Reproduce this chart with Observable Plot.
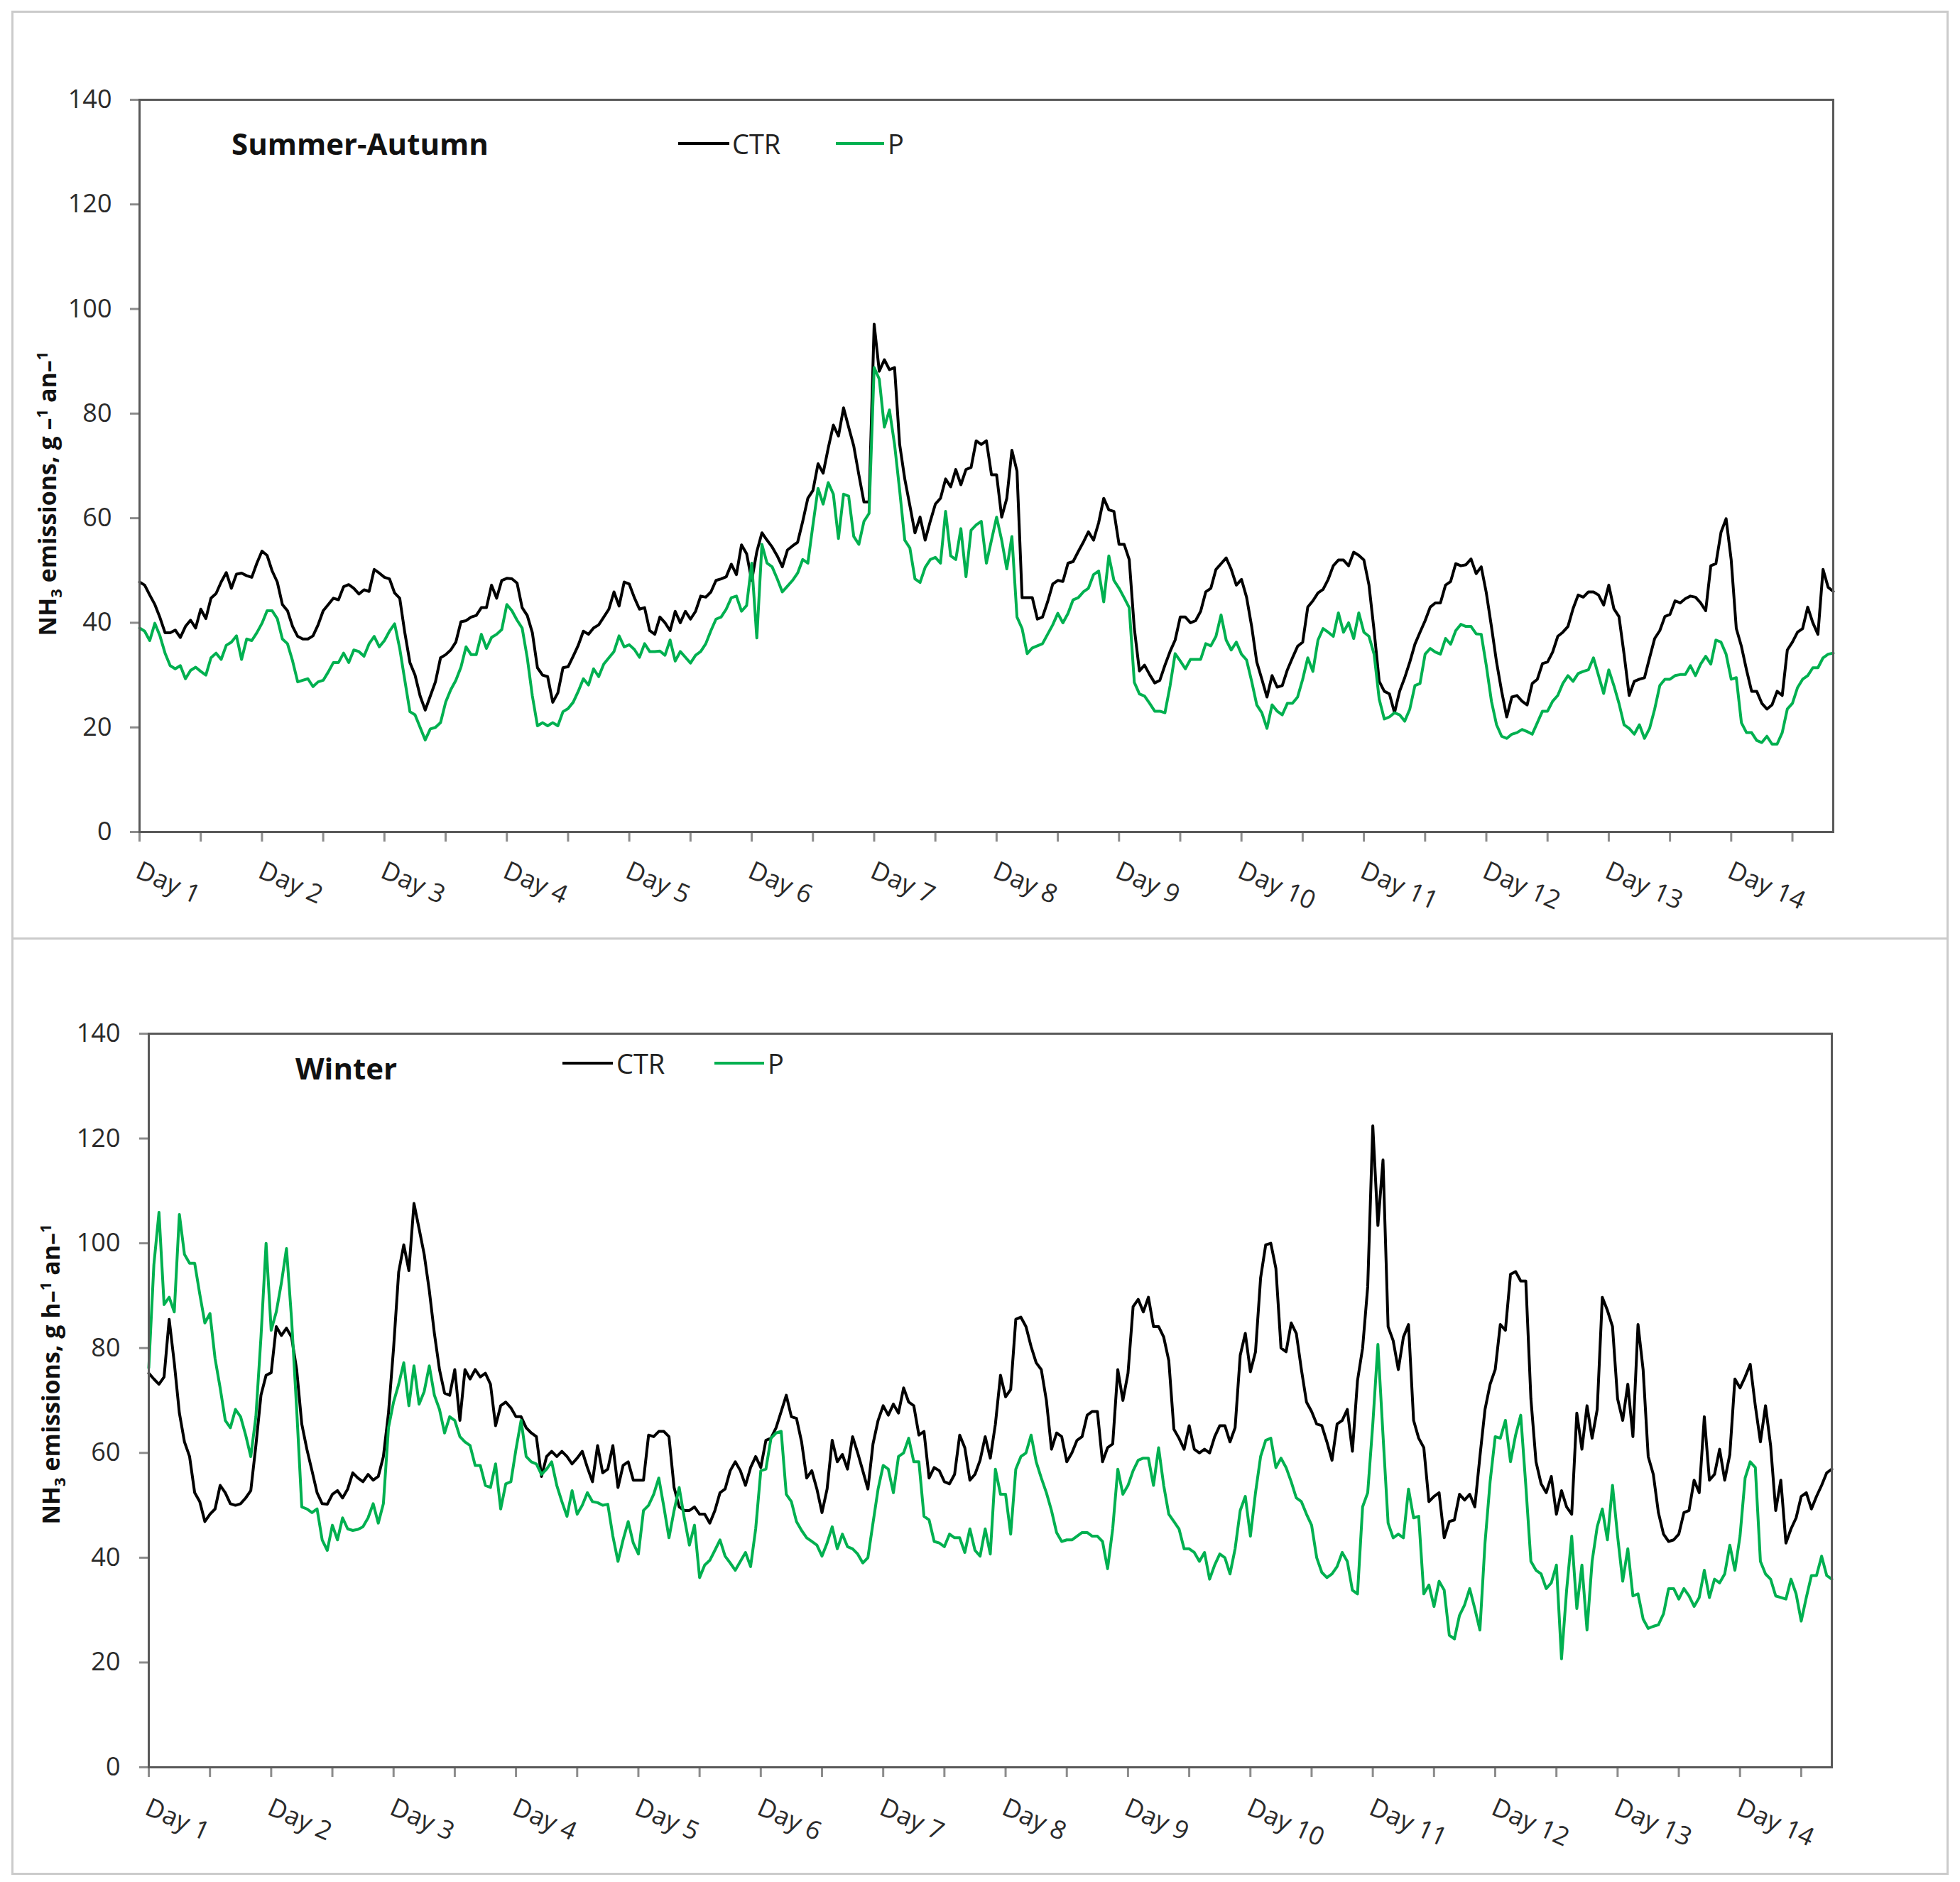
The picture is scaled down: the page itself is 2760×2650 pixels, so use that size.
<!DOCTYPE html>
<html>
<head>
<meta charset="utf-8">
<script src="https://cdn.jsdelivr.net/npm/d3@7"></script>
<script src="https://cdn.jsdelivr.net/npm/@observablehq/plot@0.6"></script>
<style>
  html, body { margin: 0; padding: 0; background: #fff; }
  body { width: 2760px; height: 2650px; position: relative; overflow: hidden; font-family: "Open Sans", sans-serif; color: #000; }
  .box { position: absolute; border: 3px solid #cbcbcb; box-sizing: border-box; }
  .panel { position: absolute; left: 0; width: 2760px; }
  .ylab { position: absolute; transform: translate(-50%, -50%) rotate(-90deg); font-weight: bold; font-size: 34px; white-space: nowrap; line-height: 1; color: #111; }
  .ylab sub, .ylab sup { font-size: 22px; }
  .title { position: absolute; font-weight: bold; font-size: 42px; line-height: 1; transform: translateY(-50%); white-space: nowrap; color: #111; }
  .legtxt { position: absolute; font-size: 38px; line-height: 1; transform: translateY(-50%); color: #222; }
  .legline { position: absolute; height: 4px; transform: translateY(-50%); }
</style>
</head>
<body>
<script>
// ---------------- DATA (hourly values, index = hour) ----------------
const seasons = ["Summer-Autumn", "Winter"];
const seriesNames = ["CTR", "P"];
const dayLabels = ["Day 1","Day 2","Day 3","Day 4","Day 5","Day 6","Day 7","Day 8","Day 9","Day 10","Day 11","Day 12","Day 13","Day 14"];
const yTicks = [0, 20, 40, 60, 80, 100, 120, 140];

const summerCTR = [
47.8,47.2,45.3,43.5,41,38.1,38.1,38.6,37.2,39.3,40.5,39,42.6,40.8,44.7,45.6,47.8,49.6,46.6,49.3,49.5,49,48.7,51.4,
53.7,52.9,49.9,47.8,43.5,42.3,39.3,37.4,36.9,36.9,37.5,39.6,42.3,43.5,44.7,44.4,46.9,47.3,46.6,45.5,46.3,46,50.2,49.5,
48.7,48.4,45.7,44.7,38.1,32.4,30,26,23.3,26,28.7,33.3,33.9,34.8,36.3,40.2,40.4,41.1,41.4,42.9,42.9,47.2,44.7,48.1,
48.5,48.4,47.6,42.9,41.4,38.1,31.4,30,29.7,24.8,26.6,31.4,31.6,33.6,35.7,38.4,37.8,39,39.6,41.1,42.6,45.9,43.2,47.8,
47.4,44.8,42.6,42.9,38.5,37.8,41.1,40,38.5,42.2,40,42.2,40.7,42.2,45.1,44.9,45.9,48.1,48.4,48.8,51.2,49.2,54.9,53.2,
48.1,53.6,57.2,55.8,54.5,52.8,50.7,53.9,54.7,55.4,59.4,63.8,65.3,70.4,68.6,73.4,77.8,75.7,81.1,77.4,73.8,68.3,63.1,63.1,
97.1,88.1,90.3,88.4,88.8,74.1,67.5,62.4,57.2,60.2,55.8,59.4,62.7,63.8,67.5,66,69.3,66.4,69.3,69.7,74.8,74.1,74.8,68.3,
68.3,60.2,63.8,73,69,44.8,44.8,44.8,40.7,41.1,44,47.4,48.1,47.9,51.4,51.7,53.6,55.4,57.4,55.8,59.1,63.8,61.6,61.3,
55,55,52.1,38.9,30.8,31.9,30.1,28.5,29,31.9,34.5,36.7,41.1,41.1,40,40.4,42.2,45.9,46.6,50.2,
51.3,52.4,50.2,47.2,48.3,44.9,39.3,32.5,29.2,25.8,29.9,27.7,28,31,33.3,35.5,36.3,43,44.2,45.7,46.4,48.3,50.9,52,
52,50.9,53.5,52.9,52,47.2,38.5,28.8,26.9,26.4,22.8,26.9,29.5,32.5,35.9,38.2,40.4,43,43.8,43.8,47.2,47.9,51.3,50.9,
51.1,52.2,49.4,50.7,45.7,39.3,32.5,26.9,22,25.8,26.1,25,24.3,28.4,29.2,32.2,32.5,34.4,37.4,38.2,39.3,42.7,45.3,44.9,
45.9,45.9,45.3,43.4,47.2,42.7,41.2,34,26.1,28.8,29.2,29.5,33.3,37,38.5,41.2,41.6,44.2,43.8,44.6,45.1,44.9,43.8,42.3,
50.9,51.3,57.3,59.9,52,38.9,35.5,31,26.9,26.9,24.6,23.5,24.3,26.9,26.1,34.8,36.3,38.2,38.9,43,40,37.8,50.2,46.8,46
];

const summerP = [
39,38.4,36.6,39.9,37.5,34.2,31.8,31.2,31.8,29.3,30.9,31.5,30.7,30,33.3,34.2,33,35.7,36.3,37.5,33,36.9,36.6,38.1,
39.9,42.3,42.3,40.8,36.9,36,32.7,28.7,29,29.3,27.8,28.7,29,30.6,32.4,32.4,34.2,32.4,34.8,34.5,33.6,36,37.4,35.4,
36.6,38.4,39.8,35.1,29,23,22.4,20,17.6,19.7,20,20.9,24.8,27.2,29,31.5,35.4,33.9,33.9,37.8,35.1,37.2,37.8,38.7,
43.5,42.3,40.5,39,33.3,26,20.3,20.9,20.3,20.9,20.3,23,23.6,24.8,26.9,29.3,28.1,31.2,29.7,32.1,33.3,34.5,37.5,35.4,
35.8,34.9,33.4,36,34.5,34.5,34.6,33.8,36.7,32.7,34.5,33.4,32.3,33.8,34.5,36,38.5,40.7,41.1,42.6,44.8,45.1,42.2,43.3,
51.4,37.1,55,51.4,50.7,48.4,45.9,47,48.1,49.5,52.1,51.4,58.7,65.7,62.7,66.8,64.6,56.1,64.6,64.2,56.5,55,59.4,60.9,
88.8,86.6,77.4,80.7,74.1,65.3,55.8,54.3,48.4,47.7,50.6,52.1,52.5,51.4,61.3,52.8,52.1,58,48.8,57.7,58.7,59.4,51.4,55.8,
60.2,55.8,50.3,56.5,41.1,38.9,34.1,35.2,35.6,36,37.8,39.6,41.8,40,41.8,44.4,44.8,45.9,46.6,49.2,49.9,44,52.8,48.1,
46.6,44.8,42.9,28.6,26.4,26,24.6,23.1,23.1,22.8,27.9,34.1,32.7,31.2,33,33,33,36,35.6,37.4,
41.5,36.7,34.8,36.3,34,32.9,28.8,24.3,22.8,19.8,24.3,23.1,22.4,24.6,24.6,25.8,29.2,33.3,30.7,36.7,38.9,38.2,37.4,41.9,
38.2,40,37,41.9,38.2,37.4,34,25.4,21.6,22,22.8,22.4,21.2,23.5,28,28.4,34,35.1,34.4,34,37,35.9,38.5,39.7,
39.3,39.3,37.9,37.8,31.8,25,20.5,18.3,17.9,18.7,19,19.6,19.2,18.7,20.9,23.1,23.1,25,26.1,28.4,29.9,28.8,30.3,30.7,
31,33.3,29.9,26.5,31,28,24.6,20.5,19.8,18.7,20.5,17.9,19.8,23.5,28,29.2,29.2,29.9,30.1,30.1,31.8,29.9,32.1,33.6,
32.1,36.7,36.3,34,29.2,29.5,20.9,19,19,17.5,17.1,18.3,16.8,16.8,19,23.5,24.6,27.6,29.2,29.9,31.4,31.4,33.3,34,34.2
];

const winterCTR = [
75.2,74.1,73.1,74.5,85.5,77.2,67.6,62.1,59.3,52.4,50.7,46.9,48.3,49.3,53.8,52.4,50.3,50,50.3,51.4,52.8,61.4,71,74.8,
75.3,84.1,82.4,83.8,82.1,75.9,65.5,60.7,56.6,52.4,50.3,50.2,52.1,52.8,51.4,53.1,56.2,55.2,54.5,55.9,54.8,55.5,59.3,67.6,
80,94.5,99.7,94.8,107.6,102.8,97.9,91,82.8,75.9,71.4,71,75.9,66.2,75.9,74.1,75.9,74.5,75.2,73.1,65.2,69,69.7,68.6,
66.9,66.9,64.8,63.8,63.1,55.5,59.3,60.3,59.3,60.3,59.3,57.9,59,60.3,57.2,54.5,61.4,56.2,56.9,61.4,53.4,57.6,58.3,54.8,
54.8,54.8,63.4,63.1,64.1,64.1,63.1,53.4,49.7,49,49,49.7,48.3,48.3,46.6,49,52.4,53.1,56.6,58.3,56.6,53.8,57.2,59.3,
57.2,62.4,62.8,64.8,67.9,71,66.9,66.6,62.1,55.2,56.6,53.1,48.6,53.1,62.4,58.3,59.7,56.9,63.1,60,56.6,53.1,61.7,66.2,
69,67.2,69.3,67.6,72.4,69.7,69,63.4,64.1,55.2,57.2,56.6,54.5,54.1,55.9,63.4,61,54.8,55.9,58.6,63.1,59,65.5,74.8,
70.7,72.1,85.5,85.9,84.1,80.3,77.2,75.9,70,60.7,63.8,63.1,58.3,60,62.4,63.1,67.2,67.9,67.9,58.3,61,61.7,75.9,70,
75.2,87.9,89.3,86.9,89.7,84.1,84.1,82.1,77.6,64.5,62.8,60.7,65.2,60.7,60,60.7,60,63.1,65.2,65.2,62.1,64.8,78.6,82.8,
75.5,79.3,93.4,99.7,100,95.2,80,79.3,84.8,82.8,75.9,69.7,67.9,65.5,65.2,62.1,58.6,65.5,66.2,68.3,60.3,73.8,80,91.7,
122.4,103.4,115.9,84.1,81.4,75.9,82.1,84.5,66.2,62.8,61,50.7,51.7,52.4,43.8,46.9,47.2,52.1,51,52.1,49.7,59.3,68.3,73.1,
75.9,84.5,83.4,94.1,94.6,92.8,92.8,70.3,58.3,54.1,52.4,55.5,48.3,52.8,49.7,48.3,67.6,60.7,69,62.8,68.3,89.7,87.2,84.1,
70.3,66.2,73.1,63.1,84.5,75.9,59.3,55.9,48.6,44.5,43.1,43.4,44.5,48.6,49,54.8,52.4,66.9,54.8,55.9,60.7,54.8,59.7,74.1,
72.4,74.5,76.9,69,62.1,69,61.4,49,54.8,42.8,45.5,47.6,51.7,52.4,49.3,51.7,53.8,56.2,56.9
];

const winterP = [
76.2,95.9,105.9,88.3,89.7,86.9,105.5,97.9,96.2,96.2,90.3,84.8,86.6,78,72.4,66.2,64.8,68.3,66.9,63.4,59.3,66.9,82.1,100,
83.4,86.9,92.4,99,85.5,68.3,49.7,49.3,48.6,49.3,43.4,41.4,46.2,43.4,47.6,45.5,45.2,45.4,45.9,47.6,50.3,46.6,50.3,64.8,
69.7,73.1,77.2,69,76.6,69.3,71.7,76.6,71,68.3,63.8,66.9,66.2,63.1,62.1,61.4,57.6,57.6,53.8,53.4,57.9,49.3,54.1,54.5,
60.7,66.2,59.3,58.3,57.9,55.9,56.9,58.3,53.8,50.7,47.9,52.8,48.3,50,52.4,50.7,50.5,50,50.2,44.1,39.3,43.4,46.9,42.8,
40.7,49,50,52.1,55.2,49.7,43.8,49,53.4,47.6,42.4,46.2,36.2,38.6,39.5,41.4,43.4,40.3,39,37.6,39.3,41,38.3,45.5,
56.6,56.9,62.8,63.8,64.1,52.1,50.7,46.9,45.2,43.8,43.1,42.4,40.3,42.8,45.9,41.7,44.5,42.1,41.7,40.7,39,40,46.6,53.1,
57.6,56.9,52.4,59.3,60,62.8,58.3,58.3,47.9,47.2,43.1,42.8,42.1,44.5,43.8,43.8,41,45.5,41.4,40.3,45.5,40.7,56.9,52.1,
52.1,44.5,56.9,59.3,60,63.4,58.3,55.2,52.4,49,44.8,43.1,43.4,43.4,44.1,44.8,44.8,44.1,44.1,43.1,37.9,45.5,56.9,52.1,
53.8,56.6,58.6,59,59,53.8,61,53.8,48.3,46.9,45.5,41.7,41.7,41,39.3,41,35.9,38.6,40.7,40,36.9,41.7,49,51.7,
44.1,52.4,59.3,62.4,62.8,57.2,59,57.2,54.5,51.4,50.7,48.3,46.2,40,37.2,36.2,36.9,38.3,41,39.3,33.8,33.1,49.7,52.4,
65.5,80.7,63.4,46.6,43.8,44.5,43.8,53.1,47.6,47.9,33.1,34.8,30.7,35.5,33.8,25.2,24.5,29,31,34.1,30.3,26.2,42.8,54.5,
63.1,62.8,66.2,58.3,63.4,67.2,53.8,39.3,37.6,36.9,34.1,35.2,38.6,20.7,33.8,44.1,30.3,38.6,26.2,39.3,45.9,49.3,43.4,53.8,
44.1,35.5,41.7,32.7,33.1,28.3,26.5,26.9,27.2,29.3,34.1,34.1,32.1,34.1,32.7,30.7,32.4,37.6,32.4,35.9,35.2,36.9,42.4,37.6,
44.1,55.2,58.3,57.2,39.3,36.9,35.9,32.7,32.4,32.1,35.9,33.1,27.9,32.4,36.6,36.6,40.3,36.6,35.9
];

// ---------------- LAYOUT ----------------
const GREEN = "#00b050";
const FONT = "Open Sans, sans-serif";

function addBox(left, top, w, h) {
  const d = document.createElement("div");
  d.className = "box";
  Object.assign(d.style, {left: left + "px", top: top + "px", width: w + "px", height: h + "px"});
  document.body.appendChild(d);
}

function addEl(cls, html, style) {
  const d = document.createElement("div");
  d.className = cls;
  d.innerHTML = html;
  Object.assign(d.style, style);
  document.body.appendChild(d);
  return d;
}

function makePanel(cfg) {
  const toRows = (arr, name) => arr.map((v, i) => ({hour: i, value: v, series: name}));
  const ctrRows = toRows(cfg.ctr, seriesNames[0]);
  const pRows = toRows(cfg.p, seriesNames[1]);
  const halfDays = d3.range(0, cfg.xMax + 0.001, 12);
  const dayStarts = dayLabels.map((_, i) => i * 24);

  const chart = Plot.plot({
    width: 2760,
    height: cfg.height,
    marginLeft: cfg.mL,
    marginRight: cfg.mR,
    marginTop: cfg.mT,
    marginBottom: cfg.mB,
    x: {domain: [0, cfg.xMax], axis: null},
    y: {domain: [0, 140], axis: null},
    style: {fontFamily: FONT, background: "transparent", overflow: "visible"},
    marks: [
      Plot.axisY({ticks: yTicks, tickSize: 13, tickPadding: cfg.tickPad, fontSize: 36, label: null,
                  stroke: "#8c8c8c", strokeWidth: 3, fill: "#2a2a2a"}),
      Plot.axisX({ticks: halfDays, tickSize: 14, tickFormat: () => "", label: null,
                  stroke: "#8c8c8c", strokeWidth: 3}),
      Plot.text(dayStarts, {x: d => d, text: (d, i) => dayLabels[i], frameAnchor: "bottom",
                 dy: cfg.dayDy, dx: 3, rotate: 24, textAnchor: "start", lineAnchor: "top",
                 fontSize: 36, fill: "#2a2a2a"}),
      Plot.line(ctrRows, {x: "hour", y: "value", stroke: "#000", strokeWidth: 4, strokeLinejoin: "round"}),
      Plot.line(pRows, {x: "hour", y: "value", stroke: GREEN, strokeWidth: 4, strokeLinejoin: "round"}),
      Plot.frame({stroke: "#595959", strokeWidth: 3})
    ]
  });
  const wrap = document.createElement("div");
  wrap.className = "panel";
  wrap.style.top = cfg.top + "px";
  wrap.style.height = cfg.height + "px";
  wrap.appendChild(chart);
  document.body.appendChild(wrap);

  addEl("ylab", cfg.ylabel, {left: cfg.ylx + "px", top: cfg.yly + "px"});
  addEl("title", cfg.title, {left: cfg.tx + "px", top: cfg.ty + "px"});
  // legend
  const L = cfg.leg;
  addEl("legline", "", {left: L.c0 + "px", top: L.y + "px", width: (L.c1 - L.c0) + "px", background: "#000"});
  addEl("legtxt", seriesNames[0], {left: L.ct + "px", top: L.y + "px"});
  addEl("legline", "", {left: L.p0 + "px", top: L.y + "px", width: (L.p1 - L.p0) + "px", background: GREEN});
  addEl("legtxt", seriesNames[1], {left: L.pt + "px", top: L.y + "px"});
}

addBox(16, 15, 2728, 1308);
addBox(16, 1320, 2728, 1320);

makePanel({
  ctr: summerCTR, p: summerP, xMax: 332,
  top: 0, height: 1320, mL: 196, mR: 179, mT: 140, mB: 149, tickPad: 26, dayDy: 40,
  title: seasons[0], tx: 326, ty: 202,
  ylabel: "NH<sub>3</sub> emissions, g –<sup>1</sup> an–<sup>1</sup>", ylx: 68, yly: 695,
  leg: {c0: 955, c1: 1027, ct: 1031, p0: 1177, p1: 1245, pt: 1250, y: 202}
});

makePanel({
  ctr: winterCTR, p: winterP, xMax: 330,
  top: 1322, height: 1318, mL: 209, mR: 181, mT: 133, mB: 152, tickPad: 27, dayDy: 42,
  title: seasons[1], tx: 416, ty: 1504,
  ylabel: "NH<sub>3</sub> emissions, g h–<sup>1</sup> an–<sup>1</sup>", ylx: 73, yly: 1935,
  leg: {c0: 792, c1: 863, ct: 868, p0: 1006, p1: 1076, pt: 1081, y: 1497}
});
</script>
</body>
</html>
